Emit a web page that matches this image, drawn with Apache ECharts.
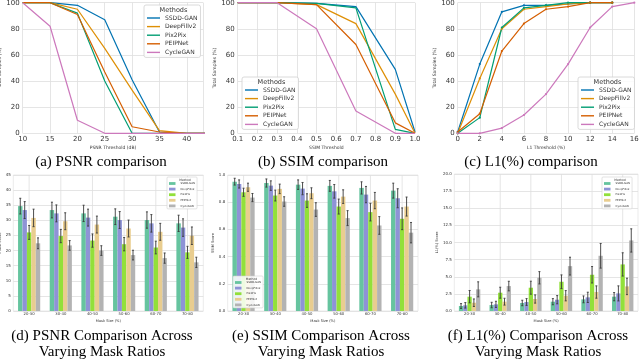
<!DOCTYPE html>
<html>
<head>
<meta charset="utf-8">
<script src="https://cdn.jsdelivr.net/npm/echarts@6/dist/echarts.min.js"></script>
<style>
html, body { margin: 0; padding: 0; background: #fff; }
#chart { width: 640px; height: 360px; }
</style>
</head>
<body>
<div id="chart"></div>
<script>
// methods, in legend order
let methods = ['SSDD-GAN', 'DeepFillv2', 'Pix2Pix', 'PEIPNet', 'CycleGAN'];
let lineColors = ['#0173b2', '#de8f05', '#029e73', '#d55e00', '#cc78bc'];
let barColors = ['#66c49f', '#8e93d6', '#92e03a', '#e9cd8f', '#b3b3b3'];

// (a) % of samples above PSNR threshold
let psnrThr = [10, 15, 20, 25, 30, 35, 40, 45];
let psnrCurves = [
	[100, 100, 98, 87, 41, 1, 0, 0],
	[100, 100, 95, 65, 33, 2, 0, 0],
	[100, 100, 92, 40, 0, 0, 0, 0],
	[100, 100, 91, 47, 5, 1, 0, 0],
	[100, 82, 10, 0, 0, 0, 0, 0]
];

// (b) % of samples above SSIM threshold
let ssimThr = [0.1, 0.3, 0.5, 0.7, 0.9, 1.0];
let ssimCurves = [
	[100, 100, 99.5, 97, 49, 1],
	[100, 100, 98.5, 84, 30, 0],
	[100, 100, 99.5, 96, 3, 0],
	[100, 100, 98.5, 68, 8, 0],
	[100, 100, 80, 17, 0, 0]
];

// (c) % of samples below L1 threshold
let l1Thr = [0, 2, 4, 6, 8, 10, 12, 14, 16];
let l1Curves = [
	[1, 53, 93, 98, 98, 99, 100, 100, null],
	[0, 42, 80, 95, 97, 99, 100, 100, null],
	[0, 12, 81, 96, 98, 100, 100, 100, null],
	[1, 15, 63, 84, 95, 97, 100, 100, null],
	[0, 0, 4, 14, 30, 53, 81, 97, 100]
];

// (d)(e)(f) scores per mask ratio
let maskRanges = ['20-30', '30-40', '40-50', '50-60', '60-70', '70-80'];
let psnrMean = [
	[34.7, 33.4, 32.3, 31.2, 30.1, 29.0],
	[33.4, 32.3, 30.9, 30.1, 29.0, 27.6],
	[26.0, 24.8, 23.3, 22.1, 21.0, 19.4],
	[30.8, 29.7, 28.6, 27.3, 26.2, 24.9],
	[22.4, 21.7, 20.0, 18.5, 17.5, 16.1]
];
let psnrErr = [
	[2.6, 2.6, 2.7, 2.6, 2.7, 2.7],
	[2.8, 2.8, 2.8, 2.8, 2.9, 2.9],
	[2.3, 2.2, 2.2, 2.2, 2.1, 2.0],
	[2.9, 2.8, 2.8, 2.8, 2.8, 2.9],
	[1.8, 1.6, 1.6, 1.6, 1.7, 1.7]
];
let ssimMean = [
	[0.951, 0.941, 0.929, 0.920, 0.905, 0.885],
	[0.934, 0.922, 0.900, 0.880, 0.856, 0.829],
	[0.873, 0.849, 0.812, 0.768, 0.727, 0.678],
	[0.910, 0.898, 0.866, 0.841, 0.812, 0.768],
	[0.834, 0.805, 0.746, 0.683, 0.629, 0.576]
];
let ssimErr = [
	[0.025, 0.03, 0.035, 0.04, 0.045, 0.055],
	[0.03, 0.035, 0.045, 0.05, 0.06, 0.07],
	[0.03, 0.04, 0.05, 0.055, 0.065, 0.08],
	[0.03, 0.035, 0.04, 0.05, 0.06, 0.07],
	[0.03, 0.035, 0.05, 0.055, 0.065, 0.075]
];
let l1Mean = [
	[0.73, 0.87, 1.17, 1.36, 1.70, 2.09],
	[0.83, 0.97, 1.31, 1.65, 1.99, 2.57],
	[2.09, 2.67, 3.40, 4.27, 5.29, 6.80],
	[1.21, 1.36, 1.75, 2.23, 2.77, 3.59],
	[3.16, 3.64, 4.85, 6.55, 8.06, 10.3]
];
let l1Err = [
	[0.35, 0.4, 0.4, 0.45, 0.5, 0.6],
	[0.4, 0.45, 0.5, 0.6, 0.75, 1.1],
	[0.9, 0.8, 0.95, 1.0, 1.2, 1.7],
	[0.55, 0.5, 0.6, 0.75, 0.9, 1.2],
	[1.1, 0.7, 0.9, 1.3, 1.8, 1.7]
];

let sans = 'DejaVu Sans';
let serif = 'Liberation Serif';
let gridColor = '#dedede';
let barShare = 0.14; // each bar = 14% of the category band, 5 bars side by side

function valueAxis(g, opts) {
	return {
		type: 'value', gridIndex: g,
		min: opts.min, max: opts.max, interval: opts.interval,
		name: opts.name, nameLocation: 'middle', nameGap: opts.nameGap,
		nameRotate: opts.rotate,
		nameTextStyle: { fontFamily: sans, fontSize: opts.nameSize, color: '#333' },
		axisLine: { show: false }, axisTick: { show: false },
		axisLabel: {
			fontFamily: sans, fontSize: opts.labelSize, color: '#333', margin: opts.margin,
			formatter: opts.fmt, showMaxLabel: opts.showMax
		},
		splitLine: { show: true, lineStyle: { color: gridColor, width: 0.8 } }
	};
}

function catAxis(g, nameGap) {
	return {
		type: 'category', gridIndex: g, data: maskRanges,
		name: 'Mask Size (%)', nameLocation: 'middle', nameGap: nameGap,
		nameTextStyle: { fontFamily: sans, fontSize: 3.6, color: '#333' },
		axisLine: { show: false }, axisTick: { show: false },
		axisLabel: { fontFamily: sans, fontSize: 3.8, color: '#333', margin: 1.5 },
		splitLine: { show: false }
	};
}

function lineSeries(g, xs, curves, withSymbol) {
	return curves.map(function(vals, k) {
		return {
			type: 'line', name: methods[k], xAxisIndex: g, yAxisIndex: g,
			data: xs.map(function(x, i) { return [x, vals[i]]; }),
			color: lineColors[k],
			lineStyle: { width: 1.2, color: lineColors[k] },
			symbol: withSymbol ? 'circle' : 'none', symbolSize: 2.2,
			showSymbol: withSymbol, clip: true, silent: true, animation: false
		};
	});
}

function barSeries(g, means) {
	return means.map(function(vals, k) {
		return {
			type: 'bar', name: 'bar|' + methods[k], xAxisIndex: g, yAxisIndex: g,
			data: vals, color: barColors[k],
			itemStyle: { color: barColors[k] },
			barWidth: (barShare * 100) + '%', barGap: '0%',
			z: 2, silent: true, animation: false
		};
	});
}

function errorSeries(g, means, errs) {
	let data = [];
	for (let k = 0; k < means.length; k++) {
		for (let i = 0; i < maskRanges.length; i++) {
			data.push([i, k, means[k][i], errs[k][i]]);
		}
	}
	return {
		type: 'custom', xAxisIndex: g, yAxisIndex: g, data: data,
		encode: { x: 0, y: 2 }, z: 5, silent: true, animation: false,
		renderItem: function(params, api) {
			let band = api.size([1, 0])[0];
			let bw = band * barShare;
			let groupW = bw * 5;
			let c = api.coord([api.value(0), api.value(2)]);
			let x = c[0] - groupW / 2 + bw * (api.value(1) + 0.5);
			let top = api.coord([api.value(0), api.value(2) + api.value(3)])[1];
			let bot = api.coord([api.value(0), api.value(2) - api.value(3)])[1];
			let st = { stroke: '#3a3a3a', lineWidth: 0.9 };
			return {
				type: 'group', children: [
					{ type: 'line', shape: { x1: x, y1: top, x2: x, y2: bot }, style: st },
					{ type: 'line', shape: { x1: x - 1, y1: top, x2: x + 1, y2: top }, style: st },
					{ type: 'line', shape: { x1: x - 1, y1: bot, x2: x + 1, y2: bot }, style: st }
				]
			};
		}
	};
}

function catGridSeries(g) {
	return {
		type: 'custom', xAxisIndex: g, yAxisIndex: g,
		data: maskRanges.map(function(r, i) { return [i, 0]; }),
		encode: { x: 0, y: 1 }, z: 0, silent: true, animation: false,
		renderItem: function(params, api) {
			let x = api.coord([api.value(0), 0])[0];
			let cs = params.coordSys;
			return {
				type: 'line',
				shape: { x1: x, y1: cs.y, x2: x, y2: cs.y + cs.height },
				style: { stroke: gridColor, lineWidth: 0.8 }
			};
		}
	};
}

function topLegend(left, top) {
	return {
		left: left, top: top, orient: 'vertical', selectedMode: false, z: 10,
		data: methods.map(function(m) { return { name: m, icon: 'rect' }; }),
		itemWidth: 13, itemHeight: 1.4, itemGap: 2.6,
		padding: [10, 3, 2, 3],
		backgroundColor: 'rgba(255,255,255,0.85)', borderColor: '#d0d0d0', borderWidth: 0.8, borderRadius: 2,
		textStyle: { fontFamily: sans, fontSize: 6, color: '#333' }
	};
}

function barLegend(left, top) {
	return {
		left: left, top: top, orient: 'vertical', selectedMode: false, z: 10,
		data: methods.map(function(m) { return { name: 'bar|' + m, icon: 'rect' }; }),
		formatter: function(name) { return name.split('|').pop(); },
		itemWidth: 6.5, itemHeight: 2.8, itemGap: 2.6,
		padding: [5, 2, 1.5, 2],
		backgroundColor: 'rgba(255,255,255,0.85)', borderColor: '#d0d0d0', borderWidth: 0.6, borderRadius: 1,
		textStyle: { fontFamily: sans, fontSize: 2.7, color: '#333' }
	};
}

function label(text, x, y, size, family, color) {
	return {
		type: 'text', x: x, y: y, z: 100, silent: true,
		style: { text: text, fontFamily: family, fontSize: size, fill: color || '#000', align: 'center', verticalAlign: 'middle' }
	};
}

let dom = document.getElementById('chart');
let myChart = echarts.init(dom, null, { renderer: 'canvas' });

let grids = [
	{ left: 22.7, top: 2.7, width: 180.5, height: 130.6 },
	{ left: 237.7, top: 2.7, width: 177.3, height: 130.6 },
	{ left: 457.7, top: 2.7, width: 176.6, height: 130.6 },
	{ left: 13.3, top: 175, width: 190, height: 136 },
	{ left: 227.7, top: 175, width: 190.3, height: 136 },
	{ left: 454.3, top: 174, width: 183.7, height: 137 }
].map(function(g, i) {
	g.outerBoundsMode = 'none';
	if (i >= 3) {
		g.show = true;
		g.borderColor = '#e6e6e6';
		g.borderWidth = 0.8;
	}
	return g;
});

let pctAxis = function(g, gap) {
	return valueAxis(g, {
		min: 0, max: 100, interval: 20, name: 'Total Samples (%)', nameGap: gap, rotate: 90,
		nameSize: 4.5, labelSize: 7, margin: 3
	});
};

let option = {
	backgroundColor: '#fff',
	animation: false,
	grid: grids,
	xAxis: [
		valueAxis(0, { min: 10, max: 43, interval: 5, name: 'PSNR Threshold (dB)', nameGap: 12, nameSize: 4.5, labelSize: 7, margin: 2, showMax: false }),
		valueAxis(1, { min: 0.1, max: 1.0, interval: 0.1, name: 'SSIM Threshold', nameGap: 12, nameSize: 4.5, labelSize: 7, margin: 2,
			fmt: function(v) { return v.toFixed(1); } }),
		valueAxis(2, { min: 0, max: 16, interval: 2, name: 'L1 Threshold (%)', nameGap: 12, nameSize: 4.5, labelSize: 7, margin: 2 }),
		catAxis(3, 8), catAxis(4, 8), catAxis(5, 8)
	],
	yAxis: [
		pctAxis(0, 13), pctAxis(1, 13), pctAxis(2, 17),
		valueAxis(3, { min: 0, max: 45, interval: 5, name: 'PSNR Score', nameGap: 7, rotate: 90, nameSize: 3.6, labelSize: 4, margin: 2.5 }),
		valueAxis(4, { min: 0, max: 1.0, interval: 0.2, name: 'SSIM Score', nameGap: 7, rotate: 90, nameSize: 3.6, labelSize: 4, margin: 2.5,
			fmt: function(v) { return v.toFixed(1); } }),
		valueAxis(5, { min: 0, max: 20, interval: 2.5, name: 'L1(%) Score', nameGap: 12, rotate: 90, nameSize: 3.6, labelSize: 4, margin: 2.5,
			fmt: function(v) { return v.toFixed(1); } })
	],
	legend: [
		topLegend(144, 5),
		topLegend(242, 77),
		topLegend(578, 77),
		barLegend(167, 177),
		barLegend(233, 276),
		barLegend(602, 177)
	],
	series: [].concat(
		lineSeries(0, psnrThr, psnrCurves, false),
		lineSeries(1, ssimThr, ssimCurves, false),
		lineSeries(2, l1Thr, l1Curves, true),
		[catGridSeries(3), catGridSeries(4), catGridSeries(5)],
		barSeries(3, psnrMean),
		barSeries(4, ssimMean),
		barSeries(5, l1Mean),
		[errorSeries(3, psnrMean, psnrErr), errorSeries(4, ssimMean, ssimErr), errorSeries(5, l1Mean, l1Err)]
	),
	graphic: {
		elements: [
			label('Methods', 173.5, 10.5, 6.5, sans, '#333'),
			label('Methods', 271.5, 82.5, 6.5, sans, '#333'),
			label('Methods', 607.5, 82.5, 6.5, sans, '#333'),
			label('Method', 185, 180, 3, sans, '#333'),
			label('Method', 251.5, 279, 3, sans, '#333'),
			label('Method', 620, 180, 3, sans, '#333'),
			label('(a) PSNR comparison', 101, 162, 15, serif),
			label('(b) SSIM comparison', 323, 162, 15, serif),
			label('(c) L1(%) comparison', 531, 162, 15, serif),
			label('(d) PSNR Comparison Across', 102, 336.5, 15, serif),
			label('Varying Mask Ratios', 102, 352, 15, serif),
			label('(e) SSIM Comparison Across', 321, 336.5, 15, serif),
			label('Varying Mask Ratios', 321, 352, 15, serif),
			label('(f) L1(%) Comparison Across', 538, 336.5, 15, serif),
			label('Varying Mask Ratios', 538, 352, 15, serif)
		]
	}
};

myChart.setOption(option);
</script>
</body>
</html>
